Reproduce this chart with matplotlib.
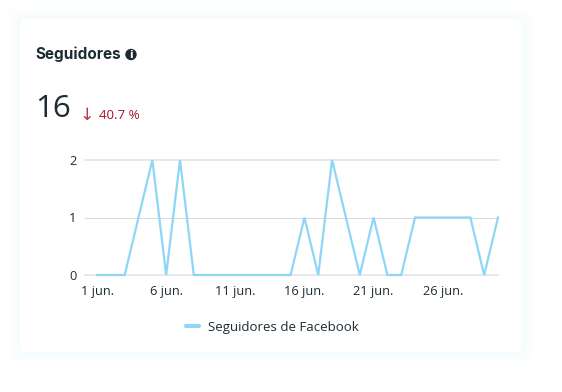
import matplotlib
matplotlib.use("Agg")
import matplotlib.pyplot as plt
from matplotlib.patches import FancyBboxPatch, Circle

W, H = 562, 392
days = list(range(1, 31))
followers = [0, 0, 0, 1, 2, 0, 2, 0, 0, 0, 0, 0, 0, 0, 0, 1, 0, 2, 1, 0, 1, 0, 0, 1, 1, 1, 1, 1, 0, 1]
tick_days = [1, 6, 11, 16, 21, 26]
tick_labels = ["1 jun.", "6 jun.", "11 jun.", "16 jun.", "21 jun.", "26 jun."]
y_ticks = [0, 1, 2]
title = "Seguidores"
total = "16"
change = "40.7 %"
series_name = "Seguidores de Facebook"

fig = plt.figure(figsize=(W / 100, H / 100), dpi=100, facecolor="white")
bg = fig.add_axes([0, 0, 1, 1])
bg.set_xlim(0, W)
bg.set_ylim(H, 0)
bg.axis("off")

# very faint card shadow
for grow, col in [(12, "#fdfeff"), (8, "#fafdfe"), (3, "#f6fbfe")]:
    bg.add_patch(FancyBboxPatch((20 - grow, 19 - grow), 502 + 2 * grow, 333 + 2 * grow,
                                boxstyle="round,pad=0,rounding_size=10", fc=col, ec="none"))
bg.add_patch(FancyBboxPatch((20, 19), 502, 333, boxstyle="round,pad=0,rounding_size=5", fc="white", ec="none"))

dark = "#1c2b33"
bg.text(35.5, 54.5, title, fontsize=11, fontweight="bold", family="Inter", color=dark, va="center", ha="left")
bg.add_patch(Circle((131, 54.5), 5.7, fc=dark, ec="none"))
bg.text(131, 54.8, "i", fontsize=7.5, fontweight="bold", family="DejaVu Sans", color="white", va="center", ha="center")
bg.text(35, 109, total, fontsize=22.5, family="Open Sans", color=dark, va="center", ha="left")
bg.text(87, 115, "↓", fontsize=12.5, family=["DejaVu Sans"], color="#b23a48", va="center", ha="center")
bg.text(99, 115.5, change, fontsize=9.6, family="Open Sans", color="#a0152a", va="center", ha="left")

ax = fig.add_axes([85 / W, 1 - 275 / H, (498 - 85) / W, (275 - 160) / H])
ax.patch.set_alpha(0)
ax.set_xlim(0.13, 30)
ax.set_ylim(0, 2)
for s in ax.spines.values():
    s.set_visible(False)
for v, lw, c in [(0, 2.0, "#e8e8e8"), (1, 1.0, "#d9d9d9"), (2, 2.0, "#e8e8e8")]:
    ax.axhline(v, color=c, lw=lw * 0.72, clip_on=False, zorder=1)
ax.plot(days, followers, color="#8dd6f7", lw=1.6, clip_on=False, zorder=3,
        solid_joinstyle="miter", label=series_name)
ax.set_xticks(tick_days, tick_labels)
ax.set_yticks(y_ticks, [str(v) for v in y_ticks])
ax.tick_params(length=0, labelsize=9.2, labelcolor="#1f2b33")
ax.tick_params(axis="x", pad=7)
ax.tick_params(axis="y", pad=6)
for t in ax.get_xticklabels() + ax.get_yticklabels():
    t.set_fontfamily("Open Sans")

bg.plot([186, 199], [326, 326], color="#8dd6f7", lw=3, solid_capstyle="round")
bg.text(207.5, 327, series_name, fontsize=9.55, family="Open Sans", color="#1f2b33", va="center", ha="left")

fig.savefig("out.png", dpi=100, facecolor="white")
